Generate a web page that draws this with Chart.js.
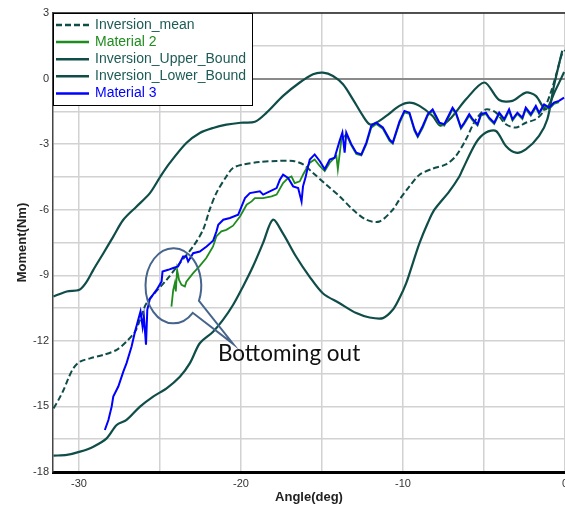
<!DOCTYPE html>
<html>
<head>
<meta charset="utf-8">
<script src="https://cdn.jsdelivr.net/npm/chart.js@4.4.0/dist/chart.umd.min.js"></script>
<style>
  html, body { margin: 0; padding: 0; background: #fff; }
  canvas { display: block; }
</style>
</head>
<body>
<canvas id="momentChart" width="565" height="508"></canvas>
<script>
// Inversion_mean (dashed)
const meanAngle = [-31.57, -31.26, -30.95, -30.65, -30.34, -29.93, -29.31, -28.49, -27.67, -27.06, -26.54, -26.23, -25.82,
  -24.59, -23.77, -22.95, -22.34, -21.93, -21.52, -20.90, -20.49, -19.87, -18.83, -17.80, -16.78, -16.16, -15.55, -14.73,
  -13.91, -13.09, -12.26, -11.45, -10.63, -10.22, -9.60, -8.98, -8.17, -7.35, -6.73, -6.11, -5.49, -4.88, -4.26, -3.65,
  -3.03, -2.42, -1.80, -1.39, -0.88, -0.50, -0.20, 0];
const meanMoment = [-15.09, -14.70, -14.25, -13.71, -13.25, -12.95, -12.80, -12.64, -12.41, -12.03, -11.58, -11.04, -10.27,
  -9.21, -8.44, -7.68, -6.92, -6.00, -5.24, -4.48, -4.09, -3.93, -3.82, -3.77, -3.77, -3.93, -4.32, -4.86,
  -5.39, -6.00, -6.46, -6.54, -6.00, -5.54, -4.93, -4.40, -4.12, -3.93, -3.54, -2.78, -1.86, -1.41, -1.56, -2.09,
  -2.24, -2.02, -1.86, -1.56, -0.64, 0.30, 1.10, 1.30];

// Material 2 (green)
const mat2Angle = [-24.29, -24.18, -24.08, -24.02, -23.94, -23.82, -23.67, -23.46, -23.37, -22.95, -22.54, -22.14, -21.72,
  -21.52, -21.21, -20.90, -20.49, -20.06, -19.65, -19.34, -19.14, -18.63, -18.11, -17.80, -17.40, -17.09, -16.88, -16.68,
  -16.37, -16.17, -16.00, -15.75, -15.45, -15.14, -14.83, -14.52, -14.11, -14.02, -13.80, -13.50, -13.19, -12.88, -12.57,
  -12.26, -11.96, -11.65, -11.24, -10.83, -10.63, -10.22, -9.91, -9.60, -9.29, -9.09, -8.78, -8.47, -8.17, -7.96, -7.75,
  -7.45, -7.14, -6.94, -6.73, -6.42, -6.22, -5.91, -5.70, -5.40, -5.19, -4.88, -4.68, -4.37, -4.06, -3.75, -3.45, -3.24,
  -2.94, -2.63, -2.42, -2.11, -1.80, -1.60, -1.29, -0.98, -0.68, -0.37];
const mat2Moment = [-10.43, -9.67, -9.36, -9.74, -8.75, -9.21, -9.44, -9.51, -9.29, -8.90, -8.57, -8.21, -7.68,
  -7.22, -6.99, -6.92, -6.73, -6.31, -5.77, -5.62, -5.47, -5.47, -5.39, -5.31, -4.78, -4.55, -4.48, -4.78,
  -4.70, -4.40, -4.17, -3.85, -3.70, -4.00, -4.23, -3.85, -3.54, -4.15, -2.78, -2.55, -3.05, -3.45, -3.52,
  -3.00, -2.25, -2.08, -2.30, -2.85, -2.98, -2.05, -1.55, -1.62, -2.40, -2.68, -2.25, -1.70, -1.48, -1.78, -2.08,
  -2.15, -1.70, -1.40, -1.62, -2.30, -2.08, -1.70, -1.92, -2.15, -1.70, -1.62, -1.85, -2.08, -1.62, -1.92, -1.48, -1.92,
  -1.62, -1.85, -1.40, -1.70, -1.32, -1.62, -1.25, -1.40, -1.16, -1.08];

// Inversion_Upper_Bound
const upperAngle = [-31.57, -30.75, -29.97, -29.52, -29.11, -28.49, -27.88, -27.26, -26.44, -25.62, -24.97, -24.39, -23.37,
  -22.54, -21.72, -20.90, -20.02, -19.14, -18.42, -17.40, -16.37, -15.55, -14.94, -14.32, -13.70, -13.09, -12.47, -12.06,
  -11.65, -11.03, -10.22, -9.60, -8.98, -8.17, -7.69, -7.02, -6.11, -4.98, -4.06, -3.24, -2.42, -1.80, -1.19, -0.60, -0.05];
const upperMoment = [-9.97, -9.74, -9.66, -9.29, -8.75, -7.99, -7.23, -6.46, -5.85, -5.24, -4.48, -3.86, -2.95,
  -2.49, -2.26, -2.11, -2.02, -1.98, -1.56, -0.79, -0.18, 0.20, 0.27, 0.12, -0.26, -0.95, -1.71, -2.09,
  -2.02, -1.71, -1.25, -1.10, -1.25, -1.71, -2.15, -1.79, -0.95, -0.18, -0.98, -1.02, -0.64, -0.79, -1.41, -0.55, 0.30];

// Inversion_Lower_Bound
const lowerAngle = [-31.57, -30.75, -29.93, -29.11, -28.29, -27.67, -27.06, -26.23, -25.42, -24.59, -23.77, -23.15, -22.54,
  -21.72, -21.11, -20.48, -19.87, -19.26, -18.64, -18.03, -17.42, -16.60, -15.77, -14.95, -13.91, -12.88, -12.06, -11.24,
  -10.63, -10.22, -9.80, -9.39, -8.98, -8.47, -8.06, -7.14, -6.52, -6.32, -5.49, -4.88, -4.26, -3.65, -3.03, -2.42, -1.60,
  -1.09, -0.68, -0.17];
const lowerMoment = [-17.25, -17.22, -17.07, -16.84, -16.46, -15.85, -15.62, -15.01, -14.55, -14.17, -13.64, -13.02, -12.11,
  -11.58, -11.04, -10.35, -9.51, -8.60, -7.53, -6.46, -7.07, -8.14, -9.06, -9.82, -10.28, -10.73, -10.93, -10.96,
  -10.58, -10.05, -9.36, -8.44, -7.53, -6.61, -6.00, -5.16, -4.48, -4.16, -2.93, -2.47, -2.40, -3.08, -3.39, -3.24, -2.62,
  -1.86, -0.33, 1.27];

// Material 3 (blue)
const mat3Angle = [-28.40, -28.18, -27.98, -27.88, -27.57, -27.26, -27.06, -26.75, -26.54, -26.34, -26.20, -26.07, -25.99,
  -25.86, -25.78, -25.62, -25.21, -24.90, -24.84, -24.49, -24.18, -23.88, -23.57, -23.37, -23.26, -22.95, -22.54, -22.12,
  -21.72, -21.51, -21.40, -21.09, -20.68, -20.17, -19.96, -19.75, -19.45, -18.83, -18.63, -18.22, -17.80, -17.60, -17.40,
  -17.09, -16.78, -16.47, -16.26, -16.17, -16.00, -15.92, -15.75, -15.45, -15.14, -14.83, -14.52, -14.22, -13.91, -13.74,
  -13.60, -13.50, -13.19, -12.88, -12.57, -12.26, -11.96, -11.65, -11.24, -10.83, -10.63, -10.22, -9.91, -9.60, -9.29,
  -9.09, -8.78, -8.47, -8.17, -7.96, -7.75, -7.45, -7.14, -6.94, -6.73, -6.42, -6.22, -5.91, -5.70, -5.40, -5.19, -4.88,
  -4.68, -4.37, -4.06, -3.75, -3.45, -3.24, -2.94, -2.63, -2.42, -2.11, -1.80, -1.60, -1.29, -0.98, -0.68, -0.37, -0.06];
const mat3Moment = [-16.08, -15.62, -15.01, -14.55, -14.09, -13.41, -13.02, -12.26, -11.58, -11.04, -10.66, -11.35, -10.89,
  -12.18, -10.58, -10.08, -9.67, -9.29, -8.83, -8.75, -8.67, -8.60, -8.14, -8.14, -8.37, -7.99, -7.91, -7.68,
  -7.42, -6.99, -6.69, -6.46, -6.38, -6.23, -5.85, -5.47, -5.24, -5.16, -5.31, -5.16, -5.01, -4.63, -4.40,
  -4.55, -4.93, -5.01, -5.62, -4.93, -4.48, -4.21, -3.70, -3.47, -3.77, -4.15, -3.70, -3.62, -2.85, -2.47,
  -3.39, -2.47, -3.00, -3.39, -3.47, -2.93, -2.17, -2.02, -2.24, -2.78, -2.93, -1.97, -1.48, -1.56, -2.32,
  -2.63, -2.17, -1.63, -1.41, -1.71, -2.02, -2.09, -1.63, -1.33, -1.56, -2.24, -2.02, -1.63, -1.86, -2.09, -1.63, -1.56,
  -1.79, -2.02, -1.56, -1.86, -1.41, -1.86, -1.56, -1.79, -1.33, -1.63, -1.25, -1.56, -1.18, -1.33, -1.10, -1.02, -0.87];

// tick positions
const xGridTicks = [-30, -25, -20, -15, -10, -5, 0];
const yGridTicks = [-18, -16.5, -15, -13.5, -12, -10.5, -9, -7.5, -6, -4.5, -3, -1.5, 0, 1.5, 3];

const teal = '#0f4d49';
const toPoints = (xs, ys) => xs.map((x, i) => ({ x: x, y: ys[i] }));

// callout "Bottoming out" in data units
const callout = { cx: -24.17, cy: -9.48, rx: 1.72, ry: 1.72, tipX: -20.48, tipY: -12.14,
  startDeg: 46, endDeg: 23.5, text: 'Bottoming out', textX: -21.42, textY: -12.92 };

const whiteBg = {
  id: 'whiteBg',
  beforeDraw(chart) {
    const c = chart.ctx;
    c.save();
    c.fillStyle = '#fff';
    c.fillRect(0, 0, chart.width, chart.height);
    c.restore();
  }
};

const calloutPlugin = {
  id: 'callout',
  afterDatasetsDraw(chart) {
    const c = chart.ctx, xs = chart.scales.x, ys = chart.scales.y;
    const cx = xs.getPixelForValue(callout.cx), cy = ys.getPixelForValue(callout.cy);
    const rx = Math.abs(xs.getPixelForValue(callout.cx + callout.rx) - cx);
    const ry = Math.abs(ys.getPixelForValue(callout.cy + callout.ry) - cy);
    const a1 = callout.startDeg * Math.PI / 180, a2 = (callout.endDeg + 360) * Math.PI / 180;
    c.save();
    c.beginPath();
    c.ellipse(cx, cy, rx, ry, 0, a1, a2, false);
    c.lineTo(xs.getPixelForValue(callout.tipX), ys.getPixelForValue(callout.tipY));
    c.closePath();
    c.strokeStyle = '#46648c';
    c.lineWidth = 2;
    c.stroke();
    c.fillStyle = '#111';
    c.font = '22.5px Lato, "Open Sans", sans-serif';
    c.textBaseline = 'alphabetic';
    c.fillText(callout.text, xs.getPixelForValue(callout.textX), ys.getPixelForValue(callout.textY));
    c.restore();
  }
};

const legendBox = {
  id: 'legendBox',
  afterDraw(chart) {
    const c = chart.ctx, area = chart.chartArea;
    c.save();
    // top frame line
    c.strokeStyle = '#222';
    c.lineWidth = 1.5;
    c.beginPath();
    c.moveTo(area.left, area.top);
    c.lineTo(area.right, area.top);
    c.stroke();

    const left = area.left, top = area.top, w = 199, h = 92;
    c.fillStyle = '#fff';
    c.fillRect(left, top, w, h);
    c.strokeStyle = '#000';
    c.lineWidth = 1;
    c.strokeRect(left + 0.5, top + 0.5, w, h);
    c.font = '14px "Liberation Sans", Arial, sans-serif';
    c.textBaseline = 'middle';
    chart.data.datasets.forEach((ds, i) => {
      const y = top + 12 + i * 17.1;
      c.beginPath();
      c.setLineDash(ds.borderDash || []);
      c.strokeStyle = ds.borderColor;
      c.lineWidth = 2.5;
      c.moveTo(left + 3, y);
      c.lineTo(left + 36, y);
      c.stroke();
      c.setLineDash([]);
      c.fillStyle = ds.legendColor;
      c.fillText(ds.label, left + 42, y);
    });
    c.restore();
  }
};

new Chart(document.getElementById('momentChart'), {
  type: 'line',
  data: {
    datasets: [
      { label: 'Inversion_mean', data: toPoints(meanAngle, meanMoment), borderColor: teal, legendColor: '#1d5b57',
        borderDash: [6, 3], borderWidth: 2, tension: 0.3, order: 3 },
      { label: 'Material 2', data: toPoints(mat2Angle, mat2Moment), borderColor: '#1e8c1e', legendColor: '#1e8c1e',
        borderWidth: 1.8, tension: 0, order: 1 },
      { label: 'Inversion_Upper_Bound', data: toPoints(upperAngle, upperMoment), borderColor: teal, legendColor: '#1d5b57',
        borderWidth: 2.2, tension: 0.3, order: 4 },
      { label: 'Inversion_Lower_Bound', data: toPoints(lowerAngle, lowerMoment), borderColor: teal, legendColor: '#1d5b57',
        borderWidth: 2.2, tension: 0.3, order: 5 },
      { label: 'Material 3', data: toPoints(mat3Angle, mat3Moment), borderColor: '#0000ff', legendColor: '#0000ff',
        borderWidth: 2, tension: 0, order: 0 }
    ]
  },
  options: {
    responsive: false,
    animation: false,
    layout: { padding: { top: 13, right: 0, left: 0, bottom: 0 } },
    elements: { point: { radius: 0 } },
    plugins: { legend: { display: false }, tooltip: { enabled: false } },
    scales: {
      x: {
        type: 'linear', min: -31.6, max: 0,
        afterFit: s => { s.height = 36; s.paddingLeft = 0; s.paddingRight = 0; },
        afterBuildTicks: s => { s.ticks = xGridTicks.map(v => ({ value: v })); },
        ticks: {
          autoSkip: false, maxRotation: 0, padding: 5, color: '#333',
          font: { family: '"Liberation Sans", Arial, sans-serif', size: 11 },
          callback: v => (v % 10 === 0 ? String(v) : '')
        },
        grid: { color: '#d2d2d2', lineWidth: 1.5, drawTicks: false },
        border: { color: '#000', width: 3 },
        title: {
          display: true, text: 'Angle(deg)', color: '#222', padding: { top: 0, bottom: 3 },
          font: { family: '"Liberation Sans", Arial, sans-serif', size: 13, weight: 'bold' }
        }
      },
      y: {
        type: 'linear', min: -18, max: 3,
        afterFit: s => { s.width = 53; s.paddingTop = 0; s.paddingBottom = 0; },
        afterBuildTicks: s => { s.ticks = yGridTicks.map(v => ({ value: v })); },
        ticks: {
          autoSkip: false, padding: 4, color: '#333',
          font: { family: '"Liberation Sans", Arial, sans-serif', size: 11 },
          callback: v => (v % 3 === 0 ? String(v) : '')
        },
        grid: {
          drawTicks: false,
          color: c => (c.tick && c.tick.value === 0 ? '#8a8a8a' : '#d2d2d2'),
          lineWidth: c => (c.tick && c.tick.value === 0 ? 2 : 1.5)
        },
        border: { color: '#444', width: 1.5 },
        title: {
          display: true, text: 'Moment(Nm)', color: '#222', padding: { top: 15, bottom: 0 },
          font: { family: '"Liberation Sans", Arial, sans-serif', size: 13, weight: 'bold' }
        }
      }
    }
  },
  plugins: [whiteBg, calloutPlugin, legendBox]
});
</script>
</body>
</html>
